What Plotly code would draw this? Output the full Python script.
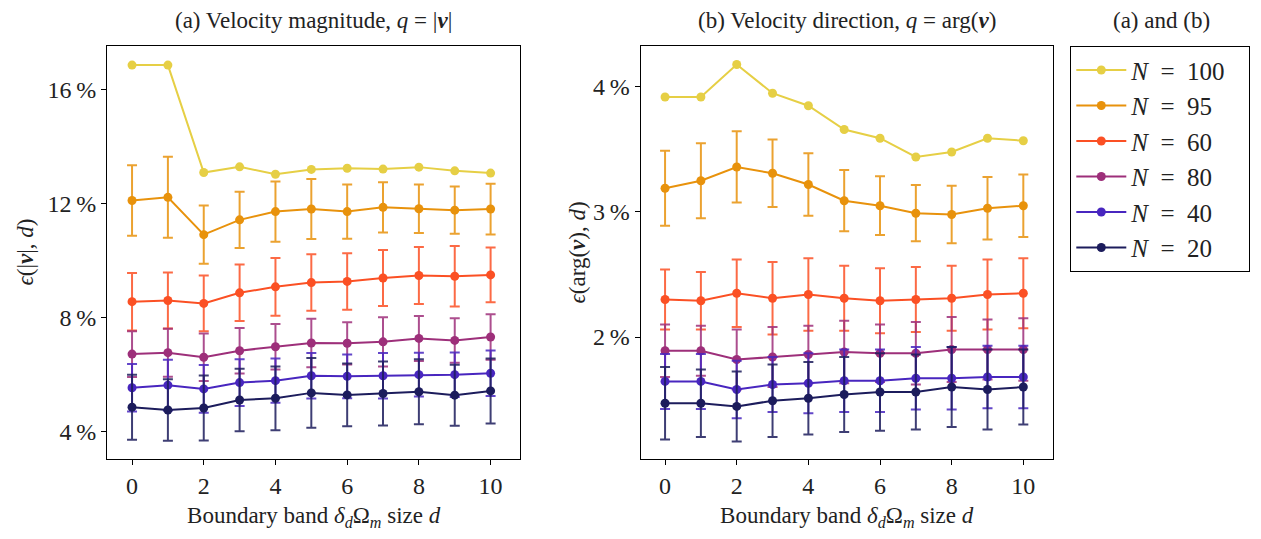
import plotly.graph_objects as go

d = list(range(11))
series_names = ["N100", "N95", "N60", "N80", "N40", "N20"]
PAD = "\u2002\u2009"
legend_labels = ["<i>N</i>\u2002=\u2002100" + PAD, "<i>N</i>\u2002=\u200295" + PAD,
                 "<i>N</i>\u2002=\u200260" + PAD, "<i>N</i>\u2002=\u200280" + PAD,
                 "<i>N</i>\u2002=\u200240" + PAD, "<i>N</i>\u2002=\u200220" + PAD]
colors = ["#e6cf45", "#e8920c", "#fb5024", "#9d2f7a", "#4826bf", "#1c1c5c"]
err_colors = ["rgba(230,207,69,0.85)", "rgba(232,146,12,0.85)", "rgba(251,80,36,0.85)",
              "rgba(157,47,122,0.85)", "rgba(72,38,191,0.85)", "rgba(28,28,92,0.85)"]

# (a) velocity magnitude error (%)
mag_N100 = [16.85, 16.85, 13.08, 13.28, 13.02, 13.19, 13.23, 13.20, 13.27, 13.14, 13.06]
mag_N100_err = [0, 0, 0, 0, 0, 0, 0, 0, 0, 0, 0]
mag_N95 = [12.10, 12.21, 10.90, 11.42, 11.71, 11.80, 11.71, 11.86, 11.81, 11.76, 11.80]
mag_N95_err = [1.24, 1.42, 1.02, 0.99, 1.06, 1.05, 0.95, 0.88, 0.85, 0.83, 0.89]
mag_N60 = [8.55, 8.59, 8.49, 8.86, 9.07, 9.22, 9.26, 9.38, 9.47, 9.44, 9.49]
mag_N60_err = [1.01, 0.98, 0.98, 0.99, 1.01, 0.99, 0.99, 0.98, 1.00, 1.06, 0.96]
mag_N80 = [6.71, 6.76, 6.60, 6.83, 6.97, 7.10, 7.09, 7.14, 7.26, 7.19, 7.31]
mag_N80_err = [0.80, 0.84, 0.83, 0.80, 0.80, 0.85, 0.74, 0.86, 0.79, 0.78, 0.80]
mag_N40 = [5.53, 5.62, 5.49, 5.71, 5.78, 5.95, 5.93, 5.95, 5.99, 5.99, 6.04]
mag_N40_err = [0.83, 0.89, 0.84, 0.82, 0.78, 0.80, 0.77, 0.80, 0.77, 0.78, 0.80]
mag_N20 = [4.85, 4.75, 4.82, 5.10, 5.16, 5.35, 5.28, 5.33, 5.39, 5.27, 5.42]
mag_N20_err = [1.14, 1.08, 1.14, 1.10, 1.12, 1.22, 1.10, 1.12, 1.14, 1.07, 1.14]

# (b) velocity direction error (%)
dir_N100 = [3.92, 3.92, 4.18, 3.95, 3.85, 3.66, 3.59, 3.44, 3.48, 3.59, 3.57]
dir_N100_err = [0, 0, 0, 0, 0, 0, 0, 0, 0, 0, 0]
dir_N95 = [3.19, 3.25, 3.36, 3.31, 3.22, 3.09, 3.05, 2.99, 2.98, 3.03, 3.05]
dir_N95_err = [0.30, 0.30, 0.285, 0.27, 0.25, 0.245, 0.235, 0.225, 0.23, 0.25, 0.25]
dir_N60 = [2.30, 2.29, 2.35, 2.31, 2.34, 2.31, 2.29, 2.30, 2.31, 2.34, 2.35]
dir_N60_err = [0.24, 0.23, 0.27, 0.29, 0.29, 0.26, 0.26, 0.26, 0.26, 0.28, 0.28]
dir_N80 = [1.89, 1.89, 1.82, 1.84, 1.86, 1.88, 1.87, 1.87, 1.90, 1.90, 1.90]
dir_N80_err = [0.21, 0.20, 0.24, 0.24, 0.23, 0.25, 0.23, 0.25, 0.26, 0.24, 0.25]
dir_N40 = [1.645, 1.645, 1.58, 1.62, 1.63, 1.65, 1.65, 1.67, 1.67, 1.68, 1.68]
dir_N40_err = [0.22, 0.22, 0.23, 0.22, 0.24, 0.25, 0.25, 0.25, 0.25, 0.25, 0.25]
dir_N20 = [1.47, 1.47, 1.445, 1.49, 1.51, 1.54, 1.56, 1.56, 1.60, 1.58, 1.60]
dir_N20_err = [0.29, 0.27, 0.28, 0.29, 0.29, 0.30, 0.31, 0.30, 0.32, 0.32, 0.30]

mag_vals = [mag_N100, mag_N95, mag_N60, mag_N80, mag_N40, mag_N20]
mag_errs = [mag_N100_err, mag_N95_err, mag_N60_err, mag_N80_err, mag_N40_err, mag_N20_err]
dir_vals = [dir_N100, dir_N95, dir_N60, dir_N80, dir_N40, dir_N20]
dir_errs = [dir_N100_err, dir_N95_err, dir_N60_err, dir_N80_err, dir_N40_err, dir_N20_err]

mag_ticks = [4, 8, 12, 16]
mag_ticktext = ["4\u2009%", "8\u2009%", "12\u2009%", "16\u2009%"]
dir_ticks = [2, 3, 4]
dir_ticktext = ["2\u2009%", "3\u2009%", "4\u2009%"]
x_ticks = [0, 2, 4, 6, 8, 10]

FONT = "'Liberation Serif', 'DejaVu Serif', serif"
FS = 23
TFS = 24
LFS = 25
TXT = "#222"

fig = go.Figure()
for i in range(6):
    has_err = any(e > 0 for e in mag_errs[i])
    fig.add_trace(go.Scatter(
        x=d, y=mag_vals[i], mode="lines+markers",
        name=legend_labels[i], legendgroup=series_names[i], showlegend=True,
        line=dict(color=colors[i], width=2), marker=dict(color=colors[i], size=9),
        error_y=dict(type="data", array=mag_errs[i], visible=has_err,
                     color=err_colors[i], thickness=2, width=5),
        xaxis="x", yaxis="y"))
for i in range(6):
    has_err = any(e > 0 for e in dir_errs[i])
    fig.add_trace(go.Scatter(
        x=d, y=dir_vals[i], mode="lines+markers",
        name=legend_labels[i], legendgroup=series_names[i], showlegend=False,
        line=dict(color=colors[i], width=2), marker=dict(color=colors[i], size=9),
        error_y=dict(type="data", array=dir_errs[i], visible=has_err,
                     color=err_colors[i], thickness=2, width=5),
        xaxis="x2", yaxis="y2"))

W, H = 1261, 539
OFF = 8  # page body margin offset
def px_x(p): return (p - OFF) / W
def px_y(p): return (H - (p - OFF)) / H

axis_common = dict(showline=True, linecolor="black", linewidth=1.3, mirror=True,
                   ticks="outside", ticklen=5, tickwidth=1.2, tickcolor="black",
                   showgrid=False, zeroline=False, automargin=False,
                   tickfont=dict(family=FONT, size=TFS, color=TXT))
xtitle = dict(text="Boundary band <i>δ</i><sub><i>d</i></sub>Ω<sub><i>m</i></sub> size <i>d</i>",
              font=dict(family=FONT, size=FS, color=TXT), standoff=8)

def ann(text, x, y, angle=0):
    return dict(text=text, x=px_x(x), y=px_y(y), xref="paper", yref="paper",
                showarrow=False, textangle=angle, borderpad=0,
                font=dict(family=FONT, size=FS, color=TXT),
                xanchor="center", yanchor="middle")

fig.update_layout(
    width=W, height=H,
    margin=dict(l=0, r=0, t=0, b=0, autoexpand=False),
    paper_bgcolor="white", plot_bgcolor="white",
    font=dict(family=FONT, size=FS, color=TXT),
    xaxis=dict(domain=[px_x(107.3), px_x(520)], range=[-0.69, 10.82],
               tickvals=x_ticks, title=xtitle, anchor="y", **axis_common),
    yaxis=dict(domain=[px_y(459.3), px_y(45.7)], range=[3.02, 17.53],
               tickvals=mag_ticks, ticktext=mag_ticktext, anchor="x", **axis_common),
    xaxis2=dict(domain=[px_x(640.7), px_x(1052.7)], range=[-0.68, 10.82],
                tickvals=x_ticks, title=xtitle, anchor="y2", **axis_common),
    yaxis2=dict(domain=[px_y(459.3), px_y(45.7)], range=[1.022, 4.33],
                tickvals=dir_ticks, ticktext=dir_ticktext, anchor="x2", **axis_common),
    legend=dict(x=px_x(1070), y=px_y(46), xanchor="left", yanchor="top",
                bordercolor="black", borderwidth=1.3, bgcolor="white",
                font=dict(family=FONT, size=LFS, color=TXT),
                tracegroupgap=0, itemwidth=50),
    showlegend=True,
    annotations=[
        ann("(a) Velocity magnitude, <i>q</i> = |<b><i>v</i></b>|", (107.3 + 520) / 2, 20),
        ann("(b) Velocity direction, <i>q</i> = arg(<b><i>v</i></b>)", (640.7 + 1052.7) / 2, 20),
        ann("(a) and (b)", 1161, 20),
        ann("<i>ϵ</i>(|<b><i>v</i></b>|, <i>d</i>)", 25, 252.5, -90),
        ann("<i>ϵ</i>(arg(<b><i>v</i></b>), <i>d</i>)", 577, 252.5, -90),
    ],
)

fig.write_html("out.html")
